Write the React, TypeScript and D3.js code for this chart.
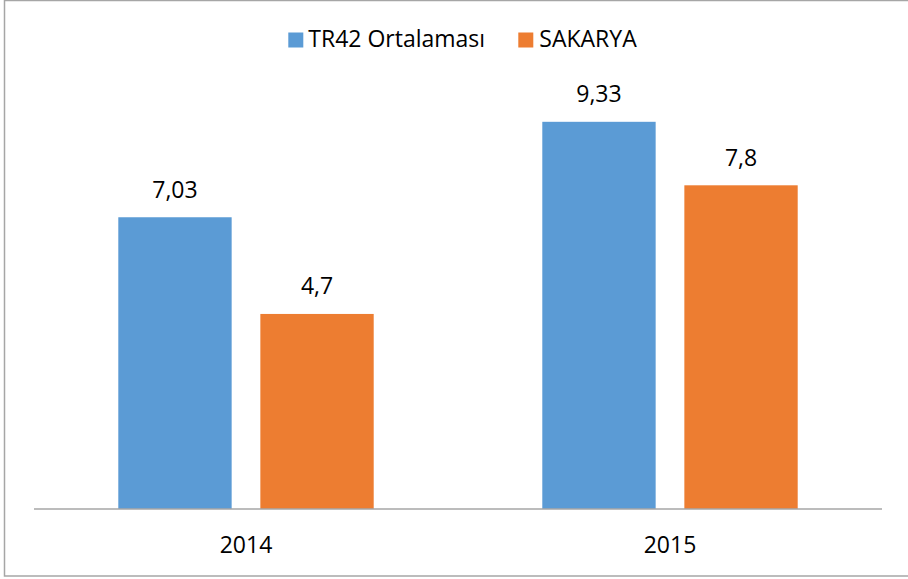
import React from "react";
import * as d3 from "d3";

const categories = ["2014", "2015"];
const seriesNames = ["TR42 Ortalaması", "SAKARYA"];
const tr42Values = [7.03, 9.33];
const sakaryaValues = [4.7, 7.8];
const valueLabels = [["7,03", "9,33"], ["4,7", "7,8"]];
const colors = ["#5b9bd5", "#ed7d31"];

const W = 908;
const H = 579;
const FONT = "'Open Sans', 'Noto Sans', sans-serif";
const FS = 23;

export default function App() {
  const plotLeft = 34;
  const plotRight = 882;
  const baseY = 509;
  const x0 = d3.scaleBand<string>().domain(categories).range([plotLeft, plotRight]).padding(0);
  const x1 = d3
    .scaleBand<string>()
    .domain(seriesNames)
    .range([84.3, x0.bandwidth() - 84.3])
    .paddingInner(0.202)
    .paddingOuter(0);
  const y = d3.scaleLinear().domain([0, 10]).range([baseY, baseY - 415]);
  const series = [tr42Values, sakaryaValues];

  return (
    <svg
      width={W}
      height={H}
      style={{ position: "absolute", left: 0, top: 0, background: "#fff" }}
      fontFamily={FONT}
    >
      <rect x={4.5} y={0.5} width={W + 10} height={575.5} fill="#fff" stroke="#a6a6a6" strokeWidth={1.5} />
      {series.map((vals, si) =>
        vals.map((v, ci) => {
          const bx = (x0(categories[ci]) as number) + (x1(seriesNames[si]) as number);
          const bw = x1.bandwidth();
          return (
            <g key={`${si}-${ci}`}>
              <rect x={bx} y={y(v)} width={bw} height={baseY - y(v)} fill={colors[si]} />
              <text x={bx + bw / 2} y={y(v) - 19.5} textAnchor="middle" fontSize={FS} fill="#000">
                {valueLabels[si][ci]}
              </text>
            </g>
          );
        })
      )}
      <line x1={plotLeft} x2={plotRight} y1={baseY} y2={baseY} stroke="#a6a6a6" strokeWidth={1.5} />
      {categories.map((c) => (
        <text
          key={c}
          x={(x0(c) as number) + x0.bandwidth() / 2}
          y={553}
          textAnchor="middle"
          fontSize={FS}
          fill="#000"
        >
          {c}
        </text>
      ))}
      <g>
        <rect x={288.3} y={32.5} width={15} height={15} fill={colors[0]} />
        <text x={308.3} y={47.3} fontSize={FS} fill="#000">
          {seriesNames[0]}
        </text>
        <rect x={518.3} y={32.5} width={15} height={15} fill={colors[1]} />
        <text x={539.3} y={47.3} fontSize={FS} fill="#000">
          {seriesNames[1]}
        </text>
      </g>
    </svg>
  );
}
